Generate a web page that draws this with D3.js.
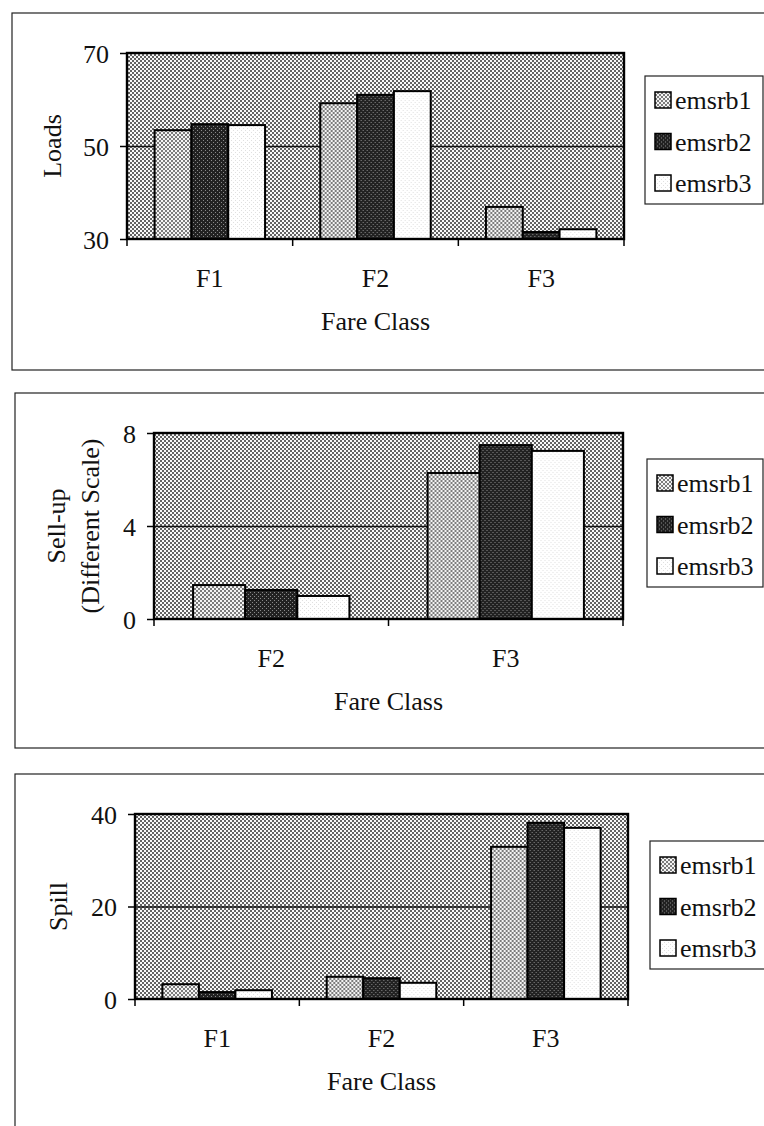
<!DOCTYPE html>
<html>
<head>
<meta charset="utf-8">
<script src="https://cdn.jsdelivr.net/npm/d3@7"></script>
<style>
  body { margin: 0; background: #fff; }
  svg { display: block; }
  svg text { font-family: "Liberation Serif", "Times New Roman", serif; fill: #111; }
  .tick text { font-size: 26px; }
  .label { font-size: 26px; }
  .legend text { font-size: 26px; }
</style>
</head>
<body>
<div id="chart"></div>
<script>
// data
const seriesNames = ["emsrb1", "emsrb2", "emsrb3"];

const loadsClasses = ["F1", "F2", "F3"];
const loadsEmsrb1 = [53.4, 59.2, 36.9];
const loadsEmsrb2 = [54.7, 61.0, 31.5];
const loadsEmsrb3 = [54.5, 61.8, 32.1];
const loadsTicks = [30, 50, 70];

const sellupClasses = ["F2", "F3"];
const sellupEmsrb1 = [1.46, 6.28];
const sellupEmsrb2 = [1.25, 7.48];
const sellupEmsrb3 = [0.99, 7.23];
const sellupTicks = [0, 4, 8];

const spillClasses = ["F1", "F2", "F3"];
const spillEmsrb1 = [3.2, 4.8, 32.9];
const spillEmsrb2 = [1.5, 4.5, 38.1];
const spillEmsrb3 = [1.9, 3.5, 37.0];
const spillTicks = [0, 20, 40];

// create svg container
const svg = d3.select("#chart")
    .append("svg")
        .attr("width", 764)
        .attr("height", 1126);

// fill patterns that mimic the printed dot screens
const defs = svg.append("defs");
function dotPattern(id, base, dot, size) {
    const p = defs.append("pattern")
        .attr("id", id)
        .attr("width", 4)
        .attr("height", 4)
        .attr("patternUnits", "userSpaceOnUse");
    p.append("rect").attr("width", 4).attr("height", 4).attr("fill", base);
    p.append("rect").attr("x", 0).attr("y", 0).attr("width", size).attr("height", size).attr("fill", dot);
    p.append("rect").attr("x", 2).attr("y", 2).attr("width", size).attr("height", size).attr("fill", dot);
}
dotPattern("bgPat", "#f8f8f8", "#626262", 2);
dotPattern("e1Pat", "#f4f4f4", "#7c7c7c", 2);
dotPattern("e2Pat", "#222222", "#8a8a8a", 1);
dotPattern("e3Pat", "#ffffff", "#e0e0e0", 1);
const seriesFills = ["url(#e1Pat)", "url(#e2Pat)", "url(#e3Pat)"];

function drawChart(cfg) {
    const g = svg.append("g");

    // outer frame, cut off at the right edge like the scan
    g.append("rect")
        .attr("x", cfg.frame.x)
        .attr("y", cfg.frame.y)
        .attr("width", 800)
        .attr("height", cfg.frame.h)
        .attr("fill", "none")
        .attr("stroke", "#222")
        .attr("stroke-width", 1.2);

    const p = cfg.plot;
    const xScale = d3.scaleBand()
        .domain(cfg.classes)
        .range([p.left, p.right]);
    const x1 = d3.scaleBand()
        .domain(seriesNames)
        .range([0, xScale.bandwidth()])
        .paddingOuter(0.75);
    const yScale = d3.scaleLinear()
        .domain([cfg.ticks[0], cfg.ticks[cfg.ticks.length - 1]])
        .range([p.bottom, p.top]);

    // plot area
    g.append("rect")
        .attr("x", p.left)
        .attr("y", p.top)
        .attr("width", p.right - p.left)
        .attr("height", p.bottom - p.top)
        .attr("fill", "url(#bgPat)");

    // middle grid line
    g.append("g")
        .attr("transform", `translate(${p.left}, 0)`)
        .call(d3.axisLeft(yScale)
            .tickValues([cfg.ticks[1]])
            .tickSize(-(p.right - p.left))
            .tickFormat(""))
        .call(function(a) { a.select(".domain").remove(); })
        .selectAll("line")
            .attr("stroke", "#111")
            .attr("stroke-width", 1.3);

    // bars
    const rows = cfg.classes.map(function(c, i) {
        return { cls: c, values: cfg.values.map(function(v, k) { return { name: seriesNames[k], value: v[i], k: k }; }) };
    });
    g.selectAll(".grp")
        .data(rows)
        .join("g")
            .attr("transform", function(d) { return `translate(${xScale(d.cls)}, 0)`; })
        .selectAll("rect")
        .data(function(d) { return d.values; })
        .join("rect")
            .attr("x", function(d) { return x1(d.name); })
            .attr("y", function(d) { return yScale(d.value); })
            .attr("width", x1.bandwidth())
            .attr("height", function(d) { return p.bottom - yScale(d.value); })
            .attr("fill", function(d) { return seriesFills[d.k]; })
            .attr("stroke", "#000")
            .attr("stroke-width", 2);

    // plot border
    g.append("rect")
        .attr("x", p.left)
        .attr("y", p.top)
        .attr("width", p.right - p.left)
        .attr("height", p.bottom - p.top)
        .attr("fill", "none")
        .attr("stroke", "#000")
        .attr("stroke-width", 2.4);

    // Y axis
    g.append("g")
        .attr("transform", `translate(${p.left}, 0)`)
        .call(d3.axisLeft(yScale).tickValues(cfg.ticks).tickSize(7).tickPadding(11).tickFormat(d3.format("d")))
        .attr("font-family", null)
        .attr("font-size", null)
        .call(function(a) { a.select(".domain").remove(); })
        .call(function(a) { a.selectAll("line").attr("stroke", "#000").attr("stroke-width", 1.5); })
        .call(function(a) { a.selectAll("text").attr("dy", "0.36em"); });

    // X axis ticks sit on the band edges
    const edges = cfg.classes.map(function(c) { return xScale(c); }).concat([p.right]);
    g.append("g")
        .selectAll("line")
        .data(edges)
        .join("line")
            .attr("x1", function(d) { return d; })
            .attr("x2", function(d) { return d; })
            .attr("y1", p.bottom)
            .attr("y2", p.bottom + 7)
            .attr("stroke", "#000")
            .attr("stroke-width", 1.5);
    g.append("g")
        .selectAll("text")
        .data(cfg.classes)
        .join("text")
            .attr("class", "label")
            .attr("x", function(d) { return xScale(d) + xScale.bandwidth() / 2; })
            .attr("y", p.bottom + 48)
            .attr("text-anchor", "middle")
        .text(function(d) { return d; });

    // X axis label
    g.append("text")
        .attr("class", "label")
        .attr("x", (p.left + p.right) / 2)
        .attr("y", p.bottom + 91)
        .attr("text-anchor", "middle")
        .text("Fare Class");

    // Y axis label, one or two lines
    cfg.yLabel.forEach(function(line, i) {
        const lx = cfg.yLabelX[i];
        const ly = (p.top + p.bottom) / 2;
        g.append("text")
            .attr("class", "label")
            .attr("transform", `translate(${lx}, ${ly}) rotate(-90)`)
            .attr("text-anchor", "middle")
            .attr("dy", "0.35em")
            .text(line);
    });

    // legend
    const lg = g.append("g")
        .attr("class", "legend")
        .attr("transform", `translate(${cfg.legend.x}, ${cfg.legend.y})`);
    lg.append("rect")
        .attr("width", cfg.legend.w)
        .attr("height", 128)
        .attr("fill", "#fff")
        .attr("stroke", "#222")
        .attr("stroke-width", 1.2);
    const item = lg.selectAll(".item")
        .data(seriesNames)
        .join("g")
            .attr("transform", function(d, i) { return `translate(0, ${24 + i * 41.5})`; });
    item.append("rect")
        .attr("x", 10)
        .attr("y", -8)
        .attr("width", 16)
        .attr("height", 16)
        .attr("fill", function(d, i) { return seriesFills[i]; })
        .attr("stroke", "#000")
        .attr("stroke-width", 1.5);
    item.append("text")
        .attr("x", 30)
        .attr("dy", "0.35em")
        .text(function(d) { return d; });
}

drawChart({
    frame: { x: 12, y: 13, h: 357 },
    plot: { left: 127, right: 624, top: 53, bottom: 239 },
    classes: loadsClasses,
    values: [loadsEmsrb1, loadsEmsrb2, loadsEmsrb3],
    ticks: loadsTicks,
    yLabel: ["Loads"],
    yLabelX: [52],
    legend: { x: 645, y: 76, w: 118 }
});

drawChart({
    frame: { x: 15, y: 393, h: 355 },
    plot: { left: 154, right: 623, top: 433, bottom: 619 },
    classes: sellupClasses,
    values: [sellupEmsrb1, sellupEmsrb2, sellupEmsrb3],
    ticks: sellupTicks,
    yLabel: ["Sell-up", "(Different Scale)"],
    yLabelX: [56, 90],
    legend: { x: 647, y: 459, w: 116 }
});

drawChart({
    frame: { x: 15, y: 774, h: 400 },
    plot: { left: 135, right: 628, top: 814, bottom: 999 },
    classes: spillClasses,
    values: [spillEmsrb1, spillEmsrb2, spillEmsrb3],
    ticks: spillTicks,
    yLabel: ["Spill"],
    yLabelX: [58],
    legend: { x: 650, y: 841, w: 130 }
});
</script>
</body>
</html>
